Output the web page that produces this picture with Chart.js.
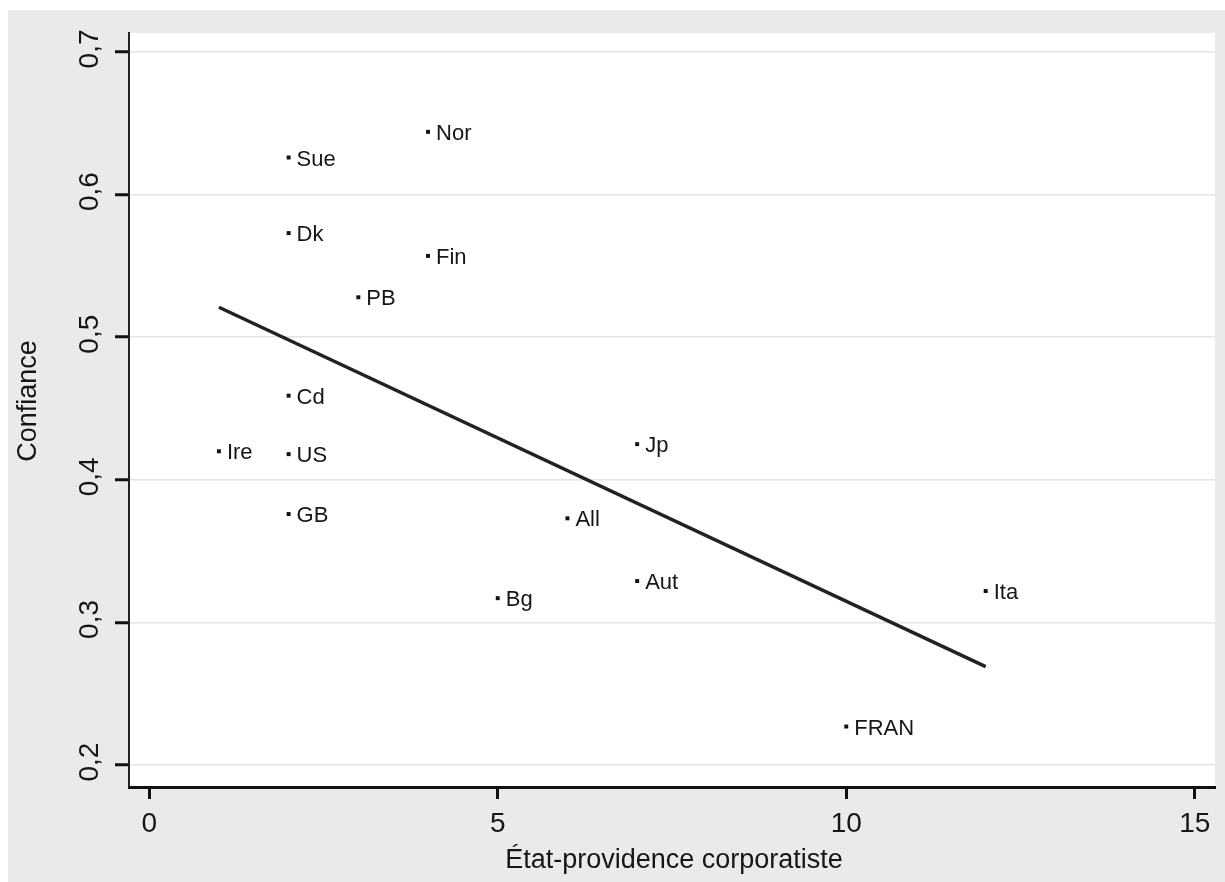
<!DOCTYPE html>
<html>
<head>
<meta charset="utf-8">
<script src="https://cdn.jsdelivr.net/npm/chart.js@4.4.1/dist/chart.umd.min.js"></script>
<style>
  html, body { margin: 0; padding: 0; background: #ffffff; }
  #wrap { position: absolute; left: 8px; top: 10px; width: 1217px; height: 872px; }
</style>
</head>
<body>
<div id="wrap"><canvas id="chart" width="1217" height="872"></canvas></div>
<script>
'use strict';

// country codes and their values
const countries = ['Nor', 'Sue', 'Dk', 'Fin', 'PB', 'Cd', 'Ire', 'US', 'GB', 'Jp', 'All', 'Aut', 'Bg', 'Ita', 'FRAN'];
const corporatisme = [4, 2, 2, 4, 3, 2, 1, 2, 2, 7, 6, 7, 5, 12, 10];
const confiance = [0.644, 0.626, 0.573, 0.557, 0.528, 0.459, 0.420, 0.418, 0.376, 0.425, 0.373, 0.329, 0.317, 0.322, 0.227];

// fitted line end points
const fitX = [1, 12];
const fitY = [0.521, 0.269];

const xTicks = [0, 5, 10, 15];
const yTicks = [0.2, 0.3, 0.4, 0.5, 0.6, 0.7];

const FONT = "'Liberation Sans', Arial, sans-serif";
const TEXT = '#161616';
const BG = '#eaeaea';

const frame = {
  id: 'frame',
  beforeDraw(chart) {
    const { ctx, chartArea: a } = chart;
    ctx.save();
    ctx.fillStyle = BG;
    ctx.fillRect(0, 0, chart.width, chart.height);
    ctx.fillStyle = '#ffffff';
    ctx.fillRect(a.left, a.top, a.right - a.left, a.bottom - a.top);
    ctx.restore();
  },
  afterDraw(chart) {
    const { ctx, chartArea: a } = chart;
    const y = chart.scales.y;
    ctx.save();
    ctx.fillStyle = TEXT;
    ctx.textAlign = 'center';
    ctx.textBaseline = 'middle';
    // rotated y tick labels
    ctx.font = '28px ' + FONT;
    for (const v of yTicks) {
      const py = y.getPixelForValue(v) - 3;
      ctx.save();
      ctx.translate(82, py);
      ctx.rotate(-Math.PI / 2);
      ctx.fillText(v.toFixed(1).replace('.', ','), 0, 0);
      ctx.restore();
    }
    // axis titles
    ctx.font = '27px ' + FONT;
    ctx.save();
    ctx.translate(21, 391);
    ctx.rotate(-Math.PI / 2);
    ctx.fillText('Confiance', 0, 0);
    ctx.restore();
    ctx.fillText('État-providence corporatiste', (a.left + a.right) / 2 + 2, 851);
    ctx.restore();
  }
};

const pointLabels = {
  id: 'pointLabels',
  afterDatasetsDraw(chart) {
    const { ctx } = chart;
    const meta = chart.getDatasetMeta(0);
    ctx.save();
    ctx.fillStyle = TEXT;
    ctx.font = '22px ' + FONT;
    ctx.textAlign = 'left';
    ctx.textBaseline = 'middle';
    meta.data.forEach((pt, i) => {
      ctx.fillText(countries[i], pt.x + 8, pt.y + 2);
    });
    ctx.restore();
  }
};

new Chart(document.getElementById('chart'), {
  type: 'scatter',
  data: {
    datasets: [{
      label: 'Pays',
      data: corporatisme.map((x, i) => ({ x: x, y: confiance[i] })),
      pointStyle: 'rect',
      pointRadius: 2.8,
      backgroundColor: '#111111',
      borderColor: '#111111',
      borderWidth: 0,
    }, {
      type: 'line',
      label: 'Ajustement',
      data: fitX.map((x, i) => ({ x: x, y: fitY[i] })),
      borderColor: '#222222',
      borderWidth: 3.5,
      pointRadius: 0,
      fill: false,
    }]
  },
  options: {
    responsive: false,
    animation: false,
    layout: { padding: { top: 23, right: 10, left: 0, bottom: 0 } },
    plugins: {
      legend: { display: false },
      tooltip: { enabled: false },
    },
    scales: {
      x: {
        type: 'linear',
        min: -0.29,
        max: 15.29,
        afterBuildTicks: s => { s.ticks = xTicks.map(v => ({ value: v })); },
        afterFit: s => { s.height = 95; },
        border: { color: '#111111', width: 3 },
        grid: {
          drawOnChartArea: false,
          drawTicks: true,
          tickLength: 12,
          tickColor: '#111111',
          tickWidth: 3,
        },
        ticks: {
          color: TEXT,
          font: { size: 28, family: FONT },
          padding: 8,
          maxRotation: 0,
          callback: v => String(v),
        },
      },
      y: {
        type: 'linear',
        min: 0.1846,
        max: 0.7133,
        afterBuildTicks: s => { s.ticks = yTicks.map(v => ({ value: v })); },
        afterFit: s => { s.width = 121; },
        border: { color: '#222222', width: 2 },
        grid: {
          color: '#e4e4e4',
          lineWidth: 1.5,
          drawTicks: true,
          tickLength: 14,
          tickColor: '#111111',
          tickWidth: 3,
        },
        ticks: { display: false },
      }
    }
  },
  plugins: [frame, pointLabels]
});
</script>
</body>
</html>
